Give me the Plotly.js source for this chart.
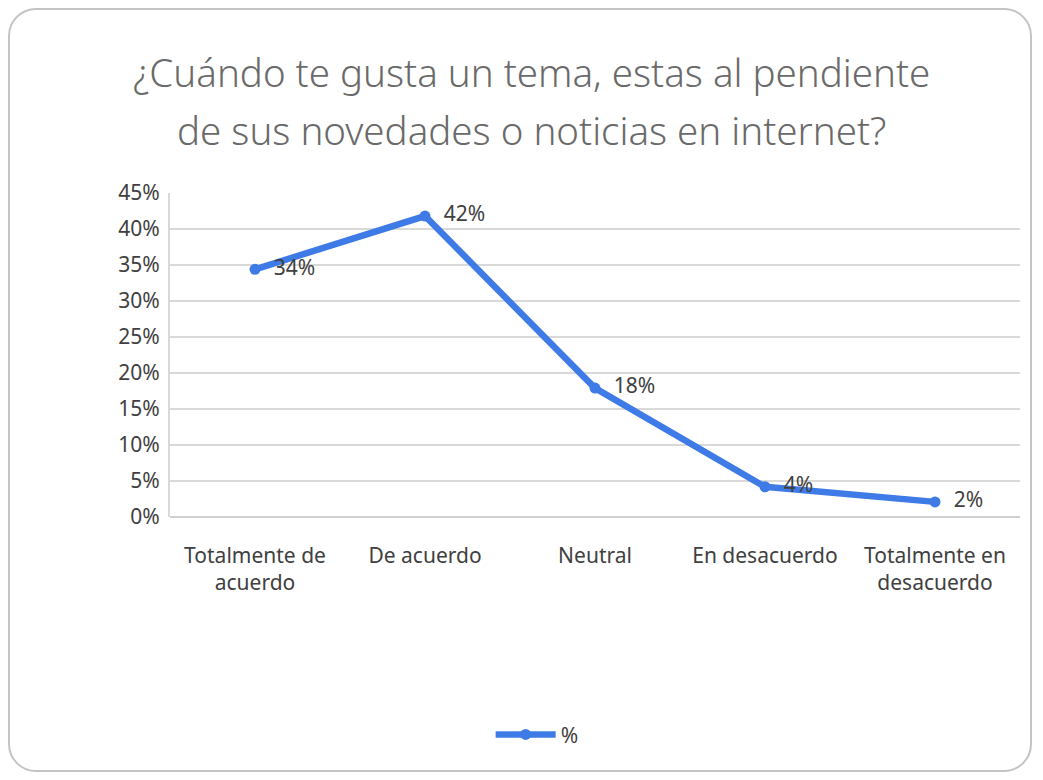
<!DOCTYPE html>
<html>
<head>
<meta charset="utf-8">
<script src="https://cdn.plot.ly/plotly-3.0.1.min.js"></script>
<style>
html,body{margin:0;padding:0;background:#fff;}
#wrap{position:absolute;left:0;top:0;width:1043px;height:780px;}
#frame{position:absolute;left:8px;top:8px;width:1024px;height:764px;border:2px solid #c4c4c4;border-radius:28px;box-sizing:border-box;pointer-events:none;}
#chart{position:absolute;left:0;top:0;width:1043px;height:780px;}
</style>
</head>
<body>
<div id="wrap">
<div id="chart"></div>
<div id="frame"></div>
</div>
<script>
const categories = ["Totalmente de<br>acuerdo", "De acuerdo", "Neutral", "En desacuerdo", "Totalmente en<br>desacuerdo"];
const values = [0.344, 0.418, 0.179, 0.042, 0.021];
const yTickVals = [0, 0.05, 0.10, 0.15, 0.20, 0.25, 0.30, 0.35, 0.40, 0.45];
const titleLines = ["¿Cuándo te gusta un tema, estas al pendiente", "de sus novedades o noticias en internet?"];
const seriesName = "%";

const FONT = "Noto Sans, Open Sans, sans-serif";
const blue = "#3f7be6";

const trace = {
  x: categories,
  y: values,
  type: "scatter",
  mode: "lines+markers+text",
  name: seriesName,
  line: {color: blue, width: 6.5},
  marker: {color: blue, size: 11},
  texttemplate: "\u00a0\u00a0%{y:.0%}",
  textposition: "middle right",
  textfont: {family: FONT, size: 21, color: "#404040"},
  cliponaxis: false
};

const titlePos = [1.373, 1.194];

const layout = {
  width: 1043,
  height: 780,
  paper_bgcolor: "#ffffff",
  plot_bgcolor: "#ffffff",
  margin: {l: 170, r: 23, t: 193, b: 263},
  font: {family: FONT, color: "#404040"},
  showlegend: true,
  legend: {
    orientation: "h",
    xref: "container", yref: "container",
    x: 0.515, y: 0.058, xanchor: "center", yanchor: "middle",
    font: {family: FONT, size: 21, color: "#404040"},
    itemwidth: 60
  },
  xaxis: {
    type: "category",
    range: [-0.5, 4.5],
    showgrid: false,
    showline: false,
    zeroline: false,
    ticks: "",
    tickangle: 0,
    ticklabelstandoff: 24,
    tickfont: {family: FONT, size: 21, color: "#404040"},
    fixedrange: true
  },
  yaxis: {
    range: [0, 0.45],
    tickvals: yTickVals,
    tickformat: ".0%",
    showgrid: true,
    gridcolor: "#d9d9d9",
    gridwidth: 2,
    showline: true,
    linecolor: "#d9d9d9",
    linewidth: 2,
    zeroline: true,
    zerolinecolor: "#d0d0d0",
    zerolinewidth: 2,
    ticks: "",
    ticklabelstandoff: 4,
    tickfont: {family: FONT, size: 21, color: "#404040"},
    fixedrange: true
  },
  annotations: titleLines.map((t, i) => ({
    text: t,
    xref: "paper", yref: "paper",
    x: 0.425, y: titlePos[i],
    xanchor: "center", yanchor: "middle",
    showarrow: false,
    font: {family: FONT, size: 38.5, color: "#6a6a6a", weight: 300}
  }))
};

Plotly.newPlot("chart", [trace], layout, {displayModeBar: false, staticPlot: true});
</script>
</body>
</html>
